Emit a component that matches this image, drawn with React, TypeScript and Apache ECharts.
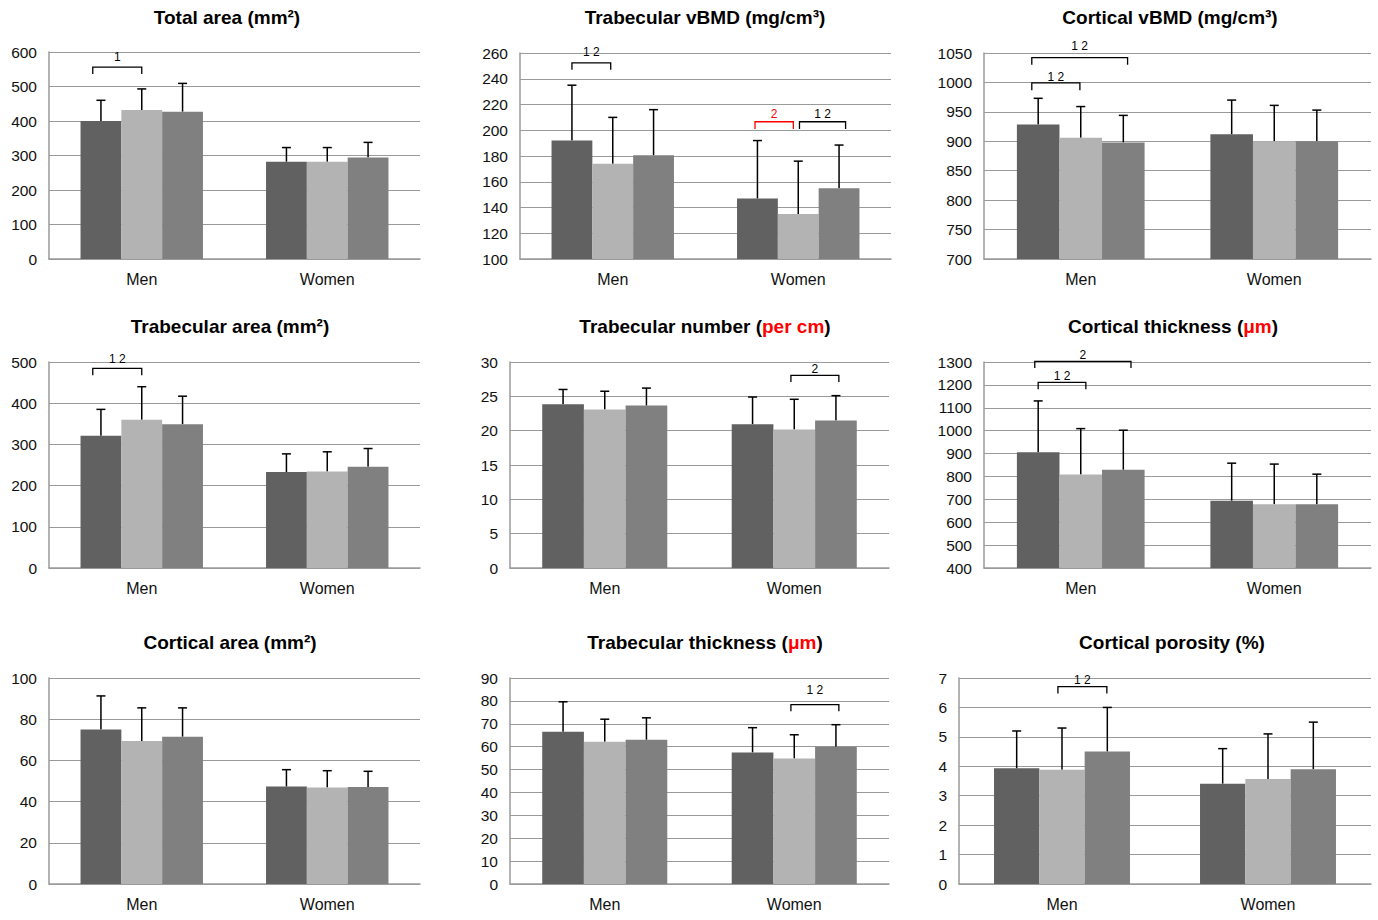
import React, { useEffect, useRef } from 'react';
import * as echarts from 'echarts';

const FONT = '"Liberation Sans", Arial, Helvetica, sans-serif';

const categories = ['Men', 'Women'];
const groupColors = ['#616161', '#b3b3b3', '#808080'];

// Means per group (3 groups) x category (Men, Women); "Top" = mean + SD (error bar end)
const totalAreaMean = [[400, 282], [432, 282], [427, 294]];
const totalAreaTop = [[460, 323], [493, 323], [509, 338]];

const trabVbmdMean = [[192, 147], [174, 135], [180.5, 155]];
const trabVbmdTop = [[235, 192], [210, 176], [216, 188.5]];

const cortVbmdMean = [[928.6, 912], [906, 900], [898, 900]];
const cortVbmdTop = [[973, 970], [959, 961], [944, 953]];

const trabAreaMean = [[321, 233], [360, 234], [349, 246]];
const trabAreaTop = [[385, 277], [440, 282], [417, 290]];

const trabNumMean = [[23.85, 20.94], [23.07, 20.16], [23.65, 21.47]];
const trabNumTop = [[26.0, 24.9], [25.74, 24.57], [26.2, 25.1]];

const cortThickMean = [[906, 694], [809, 678], [829, 679]];
const cortThickTop = [[1130, 858], [1009, 854], [1002, 810]];

const cortAreaMean = [[75, 47.3], [69.4, 46.8], [71.5, 47.1]];
const cortAreaTop = [[91.3, 55.5], [85.5, 55], [85.5, 54.7]];

const trabThickMean = [[66.5, 57.5], [62.2, 54.8], [63, 60]];
const trabThickTop = [[79.6, 68.3], [72, 65.2], [72.6, 69.6]];

const cortPoroMean = [[3.93, 3.41], [3.88, 3.57], [4.5, 3.9]];
const cortPoroTop = [[5.2, 4.6], [5.3, 5.1], [6.0, 5.5]];

// Significance brackets: category, from/to bar slot, line value, tick-end value, label value, label
const totalAreaBrackets = [{ cat: 0, from: -0.2, to: 1, y: 556, tick: 536, labelY: 585, text: '1', red: false }];
const trabVbmdBrackets = [
  { cat: 0, from: 0, to: 0.95, y: 252.3, tick: 247, labelY: 260.8, text: '1 2', red: false },
  { cat: 1, from: -0.06, to: 0.88, y: 206.6, tick: 201, labelY: 212.3, text: '2', red: true },
  { cat: 1, from: 1.03, to: 2.16, y: 206.6, tick: 201, labelY: 212.3, text: '1 2', red: false },
];
const cortVbmdBrackets = [
  { cat: 0, from: -0.15, to: 0.98, y: 999.2, tick: 986.8, labelY: 1009.4, text: '1 2', red: false },
  { cat: 0, from: -0.15, to: 2.1, y: 1042, tick: 1030, labelY: 1061.9, text: '1 2', red: false },
];
const trabAreaBrackets = [{ cat: 0, from: -0.2, to: 1, y: 484.7, tick: 467.7, labelY: 506.5, text: '1 2', red: false }];
const trabNumBrackets = [{ cat: 1, from: 0.92, to: 2.07, y: 28.06, tick: 27.1, labelY: 29.03, text: '2', red: false }];
const cortThickBrackets = [
  { cat: 0, from: 0, to: 1.12, y: 1211, tick: 1181, labelY: 1240, text: '1 2', red: false },
  { cat: 0, from: -0.08, to: 2.18, y: 1303, tick: 1274, labelY: 1329, text: '2', red: false },
];
const cortAreaBrackets: any[] = [];
const trabThickBrackets = [{ cat: 1, from: 0.92, to: 2.07, y: 78.4, tick: 75.5, labelY: 84.9, text: '1 2', red: false }];
const cortPoroBrackets = [{ cat: 0, from: 0.91, to: 1.99, y: 6.71, tick: 6.47, labelY: 6.94, text: '1 2', red: false }];

const panels = [
  { title: 'Total area (mm²)', min: 0, max: 600, interval: 100, mean: totalAreaMean, top: totalAreaTop, brackets: totalAreaBrackets },
  { title: 'Trabecular vBMD (mg/cm³)', min: 100, max: 260, interval: 20, mean: trabVbmdMean, top: trabVbmdTop, brackets: trabVbmdBrackets },
  { title: 'Cortical vBMD (mg/cm³)', min: 700, max: 1050, interval: 50, mean: cortVbmdMean, top: cortVbmdTop, brackets: cortVbmdBrackets },
  { title: 'Trabecular area (mm²)', min: 0, max: 500, interval: 100, mean: trabAreaMean, top: trabAreaTop, brackets: trabAreaBrackets },
  { title: 'Trabecular number ({r|per cm})', min: 0, max: 30, interval: 5, mean: trabNumMean, top: trabNumTop, brackets: trabNumBrackets },
  { title: 'Cortical thickness ({r|μm})', min: 400, max: 1300, interval: 100, mean: cortThickMean, top: cortThickTop, brackets: cortThickBrackets },
  { title: 'Cortical area (mm²)', min: 0, max: 100, interval: 20, mean: cortAreaMean, top: cortAreaTop, brackets: cortAreaBrackets },
  { title: 'Trabecular thickness ({r|μm})', min: 0, max: 90, interval: 10, mean: trabThickMean, top: trabThickTop, brackets: trabThickBrackets },
  { title: 'Cortical porosity (%)', min: 0, max: 7, interval: 1, mean: cortPoroMean, top: cortPoroTop, brackets: cortPoroBrackets },
];

// Layout: [left, top, width, height] of each plot area, and title centres
const gridRects = [
  [49, 52, 371, 207],
  [520, 53, 371, 206],
  [984, 53, 387, 206],
  [49, 362, 371, 206],
  [510, 362, 379, 206],
  [984, 362, 387, 206],
  [49, 678, 371, 206],
  [510, 678, 379, 206],
  [959, 678, 412, 206],
];
const titlePos = [
  [227, 17], [705, 17], [1170, 17],
  [230, 326], [705, 326], [1173, 326],
  [230, 642], [705, 642], [1172, 642],
];

const BAR_FRAC = 0.22;
const GRID_COLOR = '#9a9a9a';

export default function App() {
  const ref = useRef<HTMLDivElement>(null);

  useEffect(() => {
    if (!ref.current) return;
    const chart = echarts.init(ref.current, null, { renderer: 'svg' });

    const grid: any[] = [];
    const xAxis: any[] = [];
    const yAxis: any[] = [];
    const series: any[] = [];
    const graphic: any[] = [];

    panels.forEach((p, i) => {
      const [l, t, w, h] = gridRects[i];
      grid.push({ left: l, top: t, width: w, height: h, containLabel: false });
      xAxis.push({
        type: 'category',
        gridIndex: i,
        data: categories,
        axisTick: { show: false },
        axisLine: { show: true, lineStyle: { color: GRID_COLOR, width: 1.5 } },
        axisLabel: { fontSize: 16, color: '#111', fontFamily: FONT, margin: 12 },
        splitLine: { show: false },
      });
      yAxis.push({
        type: 'value',
        gridIndex: i,
        min: p.min,
        max: p.max,
        interval: p.interval,
        axisTick: { show: false },
        axisLine: { show: true, lineStyle: { color: GRID_COLOR, width: 1.5 } },
        axisLabel: {
          fontSize: 15.5,
          color: '#111',
          fontFamily: FONT,
          margin: 12,
          formatter: (v: number) => String(v),
        },
        splitLine: { show: true, lineStyle: { color: GRID_COLOR, width: 1.2 } },
      });

      p.mean.forEach((vals, g) => {
        series.push({
          type: 'bar',
          xAxisIndex: i,
          yAxisIndex: i,
          data: vals,
          barGap: '0%',
          barCategoryGap: '34%',
          itemStyle: { color: groupColors[g] },
          silent: true,
        });
      });

      const errData: number[][] = [];
      p.mean.forEach((vals, g) => {
        vals.forEach((v, c) => errData.push([c, g, v, p.top[g][c]]));
      });
      series.push({
        type: 'custom',
        xAxisIndex: i,
        yAxisIndex: i,
        clip: false,
        silent: true,
        encode: { x: 0, y: 3 },
        data: errData,
        renderItem: (params: any, api: any) => {
          const cat = api.value(0);
          const g = api.value(1);
          const base = api.coord([cat, api.value(2)]);
          const tp = api.coord([cat, api.value(3)]);
          const band = api.size([1, 0])[0];
          const x = base[0] + (g - 1) * band * BAR_FRAC;
          return {
            type: 'group',
            children: [
              { type: 'line', shape: { x1: x, y1: base[1], x2: x, y2: tp[1] }, style: { stroke: '#000', lineWidth: 1.5 } },
              { type: 'line', shape: { x1: x - 4.5, y1: tp[1], x2: x + 4.5, y2: tp[1] }, style: { stroke: '#000', lineWidth: 1.5 } },
            ],
          };
        },
      });

      if (p.brackets.length) {
        const br = p.brackets;
        series.push({
          type: 'custom',
          xAxisIndex: i,
          yAxisIndex: i,
          clip: false,
          silent: true,
          encode: { x: 0, y: 1 },
          data: br.map((b: any) => [b.cat, b.y]),
          renderItem: (params: any, api: any) => {
            const b = br[params.dataIndex];
            const band = api.size([1, 0])[0];
            const ctr = api.coord([b.cat, b.y]);
            const xa = ctr[0] + (b.from - 1) * band * BAR_FRAC;
            const xb = ctr[0] + (b.to - 1) * band * BAR_FRAC;
            const yLine = ctr[1];
            const yTick = api.coord([b.cat, b.tick])[1];
            const yLab = api.coord([b.cat, b.labelY])[1];
            const col = b.red ? '#ff0000' : '#000';
            return {
              type: 'group',
              children: [
                {
                  type: 'polyline',
                  shape: { points: [[xa, yTick], [xa, yLine], [xb, yLine], [xb, yTick]] },
                  style: { stroke: col, lineWidth: 1.3, fill: 'none' },
                },
                {
                  type: 'text',
                  x: (xa + xb) / 2,
                  y: yLab,
                  style: {
                    text: b.text,
                    fill: col,
                    font: `12px ${FONT}`,
                    align: 'center',
                    verticalAlign: 'middle',
                  },
                },
              ],
            };
          },
        });
      }

      graphic.push({
        type: 'text',
        x: titlePos[i][0],
        y: titlePos[i][1],
        style: {
          text: p.title,
          fill: '#000',
          font: `bold 19px ${FONT}`,
          align: 'center',
          verticalAlign: 'middle',
          rich: {
            r: { fill: '#ff0000', fontWeight: 'bold', fontSize: 19, fontFamily: FONT },
          },
        },
      });
    });

    chart.setOption({
      animation: false,
      backgroundColor: '#ffffff',
      grid,
      xAxis,
      yAxis,
      series,
      graphic,
    });

    return () => chart.dispose();
  }, []);

  return (
    <div
      ref={ref}
      style={{ position: 'fixed', left: 0, top: 0, width: 1378, height: 920, background: '#fff' }}
    />
  );
}
